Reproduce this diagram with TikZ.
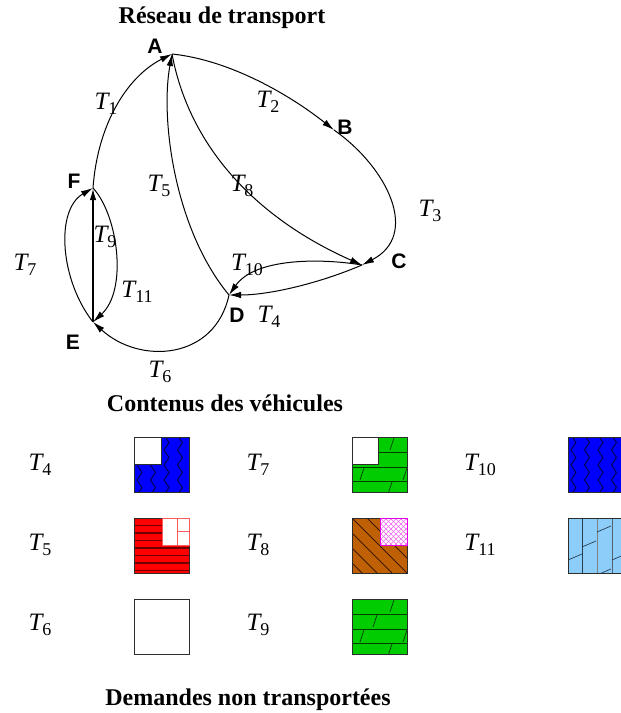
\documentclass[tikz,border=0pt]{standalone}
\usepackage{fontspec}
\setmainfont{Liberation Serif}
\setsansfont{Liberation Sans}
\usepackage{tikz}
\usetikzlibrary{arrows.meta,calc}
\definecolor{bleuz}{RGB}{0,0,255}
\definecolor{marine}{RGB}{0,0,90}
\definecolor{vertb}{RGB}{0,204,0}
\definecolor{vertf}{RGB}{0,60,0}
\definecolor{rouge}{RGB}{255,0,0}
\definecolor{rougef}{RGB}{110,0,0}
\definecolor{rougec}{RGB}{255,90,90}
\definecolor{brun}{RGB}{192,96,5}
\definecolor{brunf}{RGB}{60,25,0}
\definecolor{ciel}{RGB}{140,205,250}
\definecolor{cielf}{RGB}{40,60,80}
\definecolor{rose}{RGB}{230,0,230}
\definecolor{cadre}{RGB}{45,45,45}

\newcommand{\trajet}[1]{\textit{T}\kern-1.5pt\raisebox{-5pt}{\fontsize{18}{18}\selectfont #1}}
% motif vagues (bleu)
\newcommand{\zigzag}[2]{%
  \begin{scope}
    \clip (#1,#2) rectangle ++(55,55);
    \fill[bleuz] (#1,#2) rectangle ++(55,55);
    \foreach \c in {0,...,3}
      \foreach \r in {0,...,3}
        \draw[marine,line width=1pt] (#1+3+13.5*\c,#2+15*\r-2) -- ++(5,7.5) -- ++(-5,7.5);
  \end{scope}}
% motif briques (vert)
\newcommand{\brique}[2]{%
  \begin{scope}
    \clip (#1,#2) rectangle ++(55,55);
    \fill[vertb] (#1,#2) rectangle ++(55,55);
    \foreach \h in {15,30,44}
      \draw[vertf,line width=0.8pt] (#1,#2+\h) -- ++(55,0);
    \foreach \sx/\sy in {38/0,21/15,8/30,51/30,36/44}
      \draw[vertf,line width=0.7pt] (#1+\sx,#2+\sy+13) -- ++(4,-12);
  \end{scope}}

\tikzset{
  liaison/.style={draw=black,line width=1pt,-{Latex[length=12pt,width=6.5pt]}},
  sommet/.style={font=\sffamily\bfseries\fontsize{21}{24}\selectfont,inner sep=0pt},
  etiq/.style={font=\fontsize{25}{28}\selectfont,inner sep=0pt},
  titre/.style={font=\bfseries\fontsize{24}{28}\selectfont,inner sep=0pt},
  boite/.style={draw=cadre,line width=0.9pt}
}

\begin{document}
\begin{tikzpicture}[x=1pt,y=-1pt]
  \useasboundingbox (0,0) rectangle (621,713);
  % reseau
  \node[titre] (titreR) at (222,18) {Réseau de transport};
  \coordinate (A) at (172,54);
  \coordinate (B) at (334,130);
  \coordinate (C) at (362,265);
  \coordinate (D) at (229,295);
  \coordinate (E) at (93,322);
  \coordinate (F) at (93,188);
  \node[sommet] (lA) at (155,46) {A};
  \node[sommet] (lB) at (345,127) {B};
  \node[sommet] (lC) at (399,261) {C};
  \node[sommet] (lD) at (237,315) {D};
  \node[sommet] (lE) at (73,342) {E};
  \node[sommet] (lF) at (74,181) {F};

  \draw[liaison] (F) .. controls (98,120) and (130,75) .. (A);
  \draw[liaison] (A) .. controls (230,60) and (290,95) .. (B);
  \draw[liaison] (B) .. controls (388,168) and (420,235) .. (C);
  \draw[liaison] (D) .. controls (175,230) and (160,120) .. (A);
  \draw[liaison] (A) .. controls (190,150) and (260,220) .. (C);
  \draw[liaison] (C) .. controls (320,258) and (255,258) .. (D);
  \draw[liaison] (C) .. controls (320,283) and (270,295) .. (D);
  \draw[liaison] (D) .. controls (215,360) and (140,365) .. (E);
  \draw[liaison] (E) .. controls (60,280) and (55,210) .. (F);
  \draw[liaison,line width=1.7pt] (E) -- (F);
  \draw[liaison] (F) .. controls (118,215) and (128,290) .. (E);

  \node[etiq] (t1) at (106,104) {\trajet{1}};
  \node[etiq] (t2) at (268,102) {\trajet{2}};
  \node[etiq] (t3) at (430,211) {\trajet{3}};
  \node[etiq] (t4) at (269,317) {\trajet{4}};
  \node[etiq] (t5) at (159,186) {\trajet{5}};
  \node[etiq] (t6) at (160,372) {\trajet{6}};
  \node[etiq] (t7) at (25,265) {\trajet{7}};
  \node[etiq] (t8) at (242,186) {\trajet{8}};
  \node[etiq] (t9) at (105,237) {\trajet{9}};
  \node[etiq] (t10) at (247,265) {\trajet{10}};
  \node[etiq] (t11) at (137,292) {\trajet{11}};

  % contenus
  \node[titre] (titreC) at (225,403) {Contenus des véhicules};
  \node[etiq] (c4) at (40,465) {\trajet{4}};
  \node[etiq] (c7) at (258,465) {\trajet{7}};
  \node[etiq] (c10) at (480,465) {\trajet{10}};
  \node[etiq] (c5) at (40,545) {\trajet{5}};
  \node[etiq] (c8) at (258,545) {\trajet{8}};
  \node[etiq] (c11) at (480,545) {\trajet{11}};
  \node[etiq] (c6) at (40,625) {\trajet{6}};
  \node[etiq] (c9) at (258,625) {\trajet{9}};

  % T4
  \zigzag{134}{437}
  \fill[white] (134,437) rectangle ++(27,27);
  \draw[cadre,line width=0.8pt] (161,437) -- (161,464) -- (134,464);
  \draw[boite] (134,437) rectangle ++(55,55);
  % T7
  \brique{352}{437}
  \fill[white] (352,437) rectangle ++(26,27);
  \draw[cadre,line width=0.8pt] (378,437) -- (378,464) -- (352,464);
  \draw[boite] (352,437) rectangle ++(55,55);
  % T10
  \zigzag{568}{437}
  \draw[boite] (568,437) rectangle ++(55,55);
  % T5
  \fill[rouge] (134,518) rectangle ++(55,55);
  \foreach \h in {7.5,15,...,53}
    \draw[rougef,line width=1.1pt] (134,518+\h) -- ++(55,0);
  \draw[boite] (134,518) rectangle ++(55,55);
  \fill[white] (162,518) rectangle (189,545);
  \draw[rougec,line width=0.9pt] (162,518) rectangle (189,545);
  \draw[rougec,line width=0.9pt] (177,518) -- (177,545);
  \draw[rougec,line width=0.9pt] (177,531) -- (189,531);
  % T8
  \begin{scope}
    \clip (352,518) rectangle ++(55,55);
    \fill[brun] (352,518) rectangle ++(55,55);
    \foreach \d in {-60,-45,...,60}
      \draw[brunf,line width=0.9pt] (352+\d,518) -- ++(55,55);
  \end{scope}
  \draw[boite] (352,518) rectangle ++(55,55);
  \begin{scope}
    \clip (380,518) rectangle (407,545);
    \fill[white] (380,518) rectangle (407,545);
    \foreach \d in {-30,-25,...,30} {
      \draw[rose!60,line width=0.5pt] (380+\d,518) -- ++(27,27);
      \draw[rose!60,line width=0.5pt] (407+\d,518) -- ++(-27,27);
    }
  \end{scope}
  \draw[rose,line width=0.9pt] (380,518) rectangle (407,545);
  % T11
  \fill[ciel] (568,518) rectangle ++(55,55);
  \draw[cielf,line width=1pt] (582,518) -- ++(0,55);
  \draw[gray,line width=0.7pt] (597,518) -- ++(0,55);
  \draw[cielf!80,line width=0.8pt] (612,518) -- ++(0,55);
  \begin{scope}
    \clip (568,518) rectangle ++(55,55);
    \foreach \sx/\sy in {568/42,582/29,597/14,597/57,612/42}
      \draw[cielf,line width=0.7pt] (\sx,518+\sy) -- ++(14,-6);
  \end{scope}
  \draw[boite] (568,518) rectangle ++(55,55);
  % T6
  \draw[boite] (134,599) rectangle ++(55,55);
  % T9
  \brique{352}{599}
  \draw[boite] (352,599) rectangle ++(55,55);

  \node[titre] (titreD) at (248,700) {Demandes non transportées};
\end{tikzpicture}
\end{document}
